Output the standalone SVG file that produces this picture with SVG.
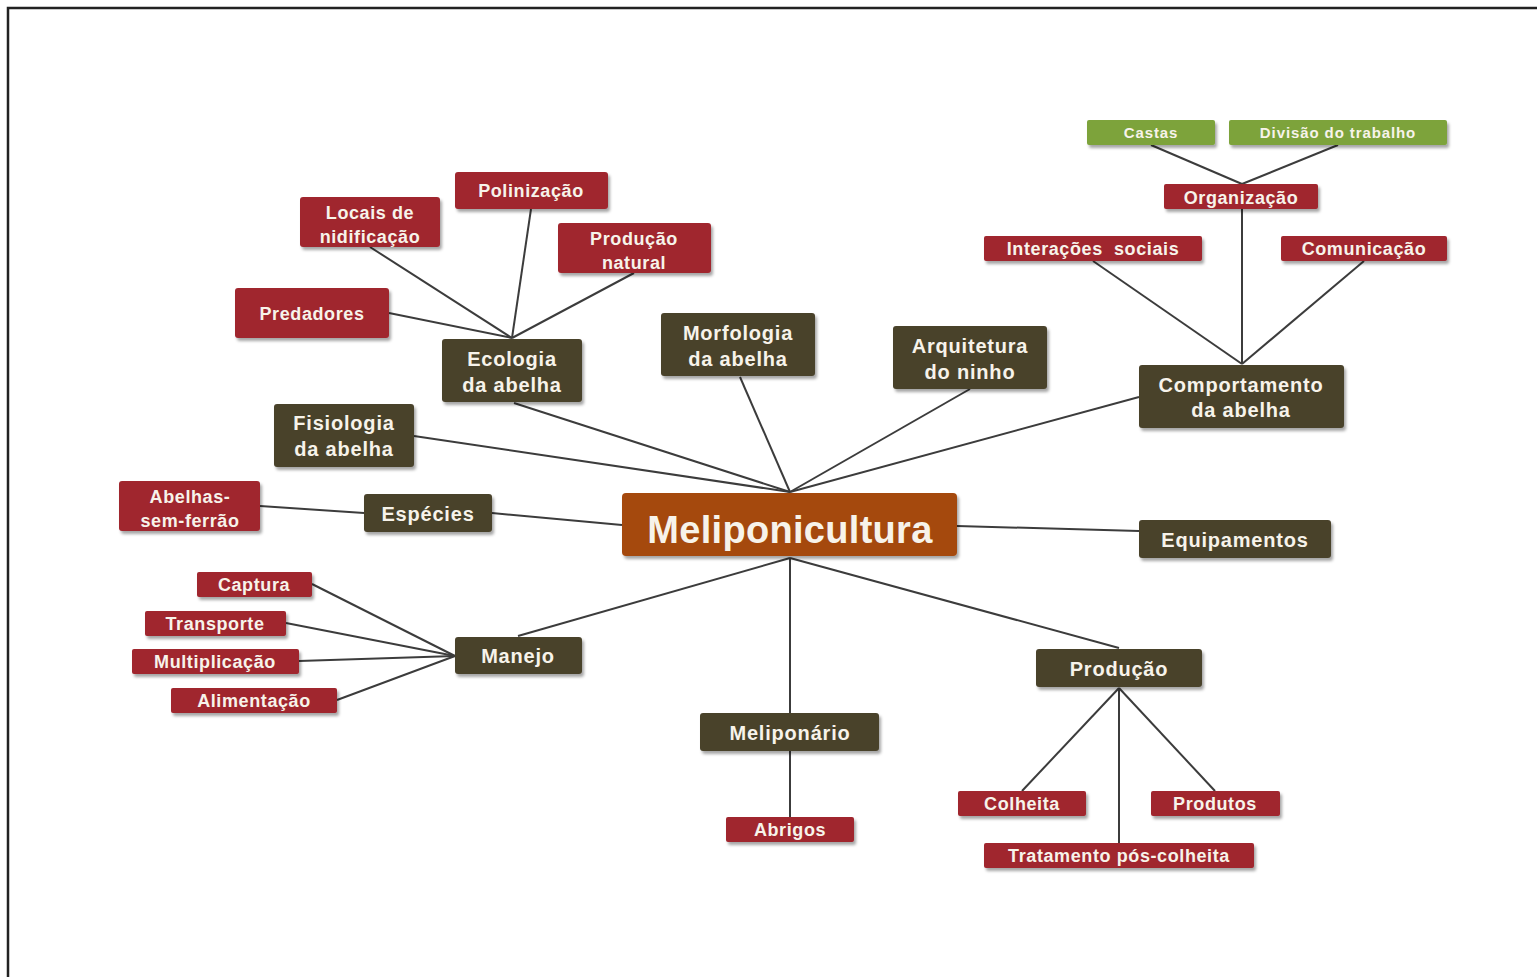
<svg xmlns="http://www.w3.org/2000/svg" width="1537" height="977" viewBox="0 0 1537 977">
<defs>
<filter id="sh" x="-10%" y="-20%" width="125%" height="150%">
<feDropShadow dx="2" dy="3" stdDeviation="1.5" flood-color="#000" flood-opacity="0.35"/>
</filter>
</defs>
<style>
.dk{fill:#4a432b}
.rd{fill:#a0282e}
.gr{fill:#7da33b}
.or{fill:#a5480a}
.n rect{filter:url(#sh)}
text{font-family:"Liberation Sans",Arial,sans-serif;font-weight:bold;fill:#f7f3ea;text-anchor:middle}
.t1{font-size:20px;letter-spacing:0.8px}
.t2{font-size:18px;letter-spacing:0.6px}
.t3{font-size:15px;letter-spacing:0.9px}
.t0{font-size:38px;letter-spacing:0.3px}
.c line{stroke:#3c3c3c;stroke-width:2}
</style>
<rect x="0" y="0" width="1537" height="977" fill="#fff"/>
<rect x="8" y="8" width="1545" height="990" fill="none" stroke="#222" stroke-width="2.5"/>

<g class="c">
<line x1="790" y1="492" x2="514" y2="403"/>
<line x1="790" y1="492" x2="414" y2="436"/>
<line x1="790" y1="492" x2="740" y2="377"/>
<line x1="790" y1="492" x2="970" y2="389"/>
<line x1="790" y1="492" x2="1139" y2="397"/>
<line x1="622" y1="525" x2="492" y2="513"/>
<line x1="957" y1="526" x2="1139" y2="531"/>
<line x1="790" y1="558" x2="518" y2="636"/>
<line x1="790" y1="558" x2="790" y2="713"/>
<line x1="790" y1="558" x2="1119" y2="648"/>
<line x1="364" y1="513" x2="260" y2="506"/>
<line x1="512" y1="338" x2="370" y2="247"/>
<line x1="512" y1="338" x2="531" y2="209"/>
<line x1="512" y1="338" x2="634" y2="273"/>
<line x1="512" y1="338" x2="389" y2="313"/>
<line x1="455" y1="656" x2="312" y2="584"/>
<line x1="455" y1="656" x2="286" y2="623"/>
<line x1="455" y1="656" x2="299" y2="661"/>
<line x1="455" y1="656" x2="337" y2="700"/>
<line x1="790" y1="751" x2="790" y2="817"/>
<line x1="1119" y1="688" x2="1022" y2="791"/>
<line x1="1119" y1="688" x2="1215" y2="791"/>
<line x1="1119" y1="688" x2="1119" y2="843"/>
<line x1="1242" y1="364" x2="1093" y2="261"/>
<line x1="1242" y1="364" x2="1242" y2="209"/>
<line x1="1242" y1="364" x2="1364" y2="261"/>
<line x1="1242" y1="184" x2="1151" y2="145"/>
<line x1="1242" y1="184" x2="1338" y2="145"/>
</g>

<g id="meliponicultura" class="n"><rect class="or" x="622" y="493" width="335" height="63" rx="4"/><text class="t0" x="790" y="543">Meliponicultura</text></g>

<g id="ecologia" class="n"><rect class="dk" x="442" y="339" width="140" height="63" rx="3"/><text class="t1" x="512" y="366">Ecologia</text><text class="t1" x="512" y="392">da abelha</text></g>
<g id="morfologia" class="n"><rect class="dk" x="661" y="313" width="154" height="63" rx="3"/><text class="t1" x="738" y="340">Morfologia</text><text class="t1" x="738" y="366">da abelha</text></g>
<g id="arquitetura" class="n"><rect class="dk" x="893" y="326" width="154" height="63" rx="3"/><text class="t1" x="970" y="353">Arquitetura</text><text class="t1" x="970" y="379">do ninho</text></g>
<g id="comportamento" class="n"><rect class="dk" x="1139" y="365" width="205" height="63" rx="3"/><text class="t1" x="1241" y="392">Comportamento</text><text class="t1" x="1241" y="417">da abelha</text></g>
<g id="fisiologia" class="n"><rect class="dk" x="274" y="404" width="140" height="63" rx="3"/><text class="t1" x="344" y="430">Fisiologia</text><text class="t1" x="344" y="456">da abelha</text></g>
<g id="especies" class="n"><rect class="dk" x="364" y="494" width="128" height="38" rx="3"/><text class="t1" x="428" y="521">Espécies</text></g>
<g id="equipamentos" class="n"><rect class="dk" x="1139" y="520" width="192" height="38" rx="3"/><text class="t1" x="1235" y="547">Equipamentos</text></g>
<g id="manejo" class="n"><rect class="dk" x="455" y="637" width="127" height="37" rx="3"/><text class="t1" x="518" y="663">Manejo</text></g>
<g id="meliponario" class="n"><rect class="dk" x="700" y="713" width="179" height="38" rx="3"/><text class="t1" x="790" y="740">Meliponário</text></g>
<g id="producao" class="n"><rect class="dk" x="1036" y="649" width="166" height="38" rx="3"/><text class="t1" x="1119" y="676">Produção</text></g>

<g id="locais" class="n"><rect class="rd" x="300" y="197" width="140" height="50" rx="3"/><text class="t2" x="370" y="219">Locais de</text><text class="t2" x="370" y="243">nidificação</text></g>
<g id="polinizacao" class="n"><rect class="rd" x="455" y="172" width="153" height="37" rx="3"/><text class="t2" x="531" y="197">Polinização</text></g>
<g id="producao-natural" class="n"><rect class="rd" x="558" y="223" width="153" height="50" rx="3"/><text class="t2" x="634" y="245">Produção</text><text class="t2" x="634" y="269">natural</text></g>
<g id="predadores" class="n"><rect class="rd" x="235" y="288" width="154" height="50" rx="3"/><text class="t2" x="312" y="320">Predadores</text></g>
<g id="abelhas" class="n"><rect class="rd" x="119" y="481" width="141" height="50" rx="3"/><text class="t2" x="190" y="503">Abelhas-</text><text class="t2" x="190" y="527">sem-ferrão</text></g>
<g id="captura" class="n"><rect class="rd" x="197" y="572" width="115" height="25" rx="2"/><text class="t2" x="254" y="591">Captura</text></g>
<g id="transporte" class="n"><rect class="rd" x="145" y="611" width="141" height="25" rx="2"/><text class="t2" x="215" y="630">Transporte</text></g>
<g id="multiplicacao" class="n"><rect class="rd" x="132" y="649" width="167" height="25" rx="2"/><text class="t2" x="215" y="668">Multiplicação</text></g>
<g id="alimentacao" class="n"><rect class="rd" x="171" y="688" width="166" height="25" rx="2"/><text class="t2" x="254" y="707">Alimentação</text></g>
<g id="abrigos" class="n"><rect class="rd" x="726" y="817" width="128" height="25" rx="2"/><text class="t2" x="790" y="836">Abrigos</text></g>
<g id="colheita" class="n"><rect class="rd" x="958" y="791" width="128" height="25" rx="2"/><text class="t2" x="1022" y="810">Colheita</text></g>
<g id="produtos" class="n"><rect class="rd" x="1151" y="791" width="129" height="25" rx="2"/><text class="t2" x="1215" y="810">Produtos</text></g>
<g id="tratamento" class="n"><rect class="rd" x="984" y="843" width="270" height="25" rx="2"/><text class="t2" x="1119" y="862">Tratamento pós-colheita</text></g>
<g id="organizacao" class="n"><rect class="rd" x="1164" y="184" width="154" height="25" rx="2"/><text class="t2" x="1241" y="204">Organização</text></g>
<g id="interacoes" class="n"><rect class="rd" x="984" y="236" width="218" height="25" rx="2"/><text class="t2" x="1093" y="255" style="white-space:pre">Interações  sociais</text></g>
<g id="comunicacao" class="n"><rect class="rd" x="1281" y="236" width="166" height="25" rx="2"/><text class="t2" x="1364" y="255">Comunicação</text></g>

<g id="castas" class="n"><rect class="gr" x="1087" y="120" width="128" height="25" rx="2"/><text class="t3" x="1151" y="138">Castas</text></g>
<g id="divisao" class="n"><rect class="gr" x="1229" y="120" width="218" height="25" rx="2"/><text class="t3" x="1338" y="138">Divisão do trabalho</text></g>
</svg>
